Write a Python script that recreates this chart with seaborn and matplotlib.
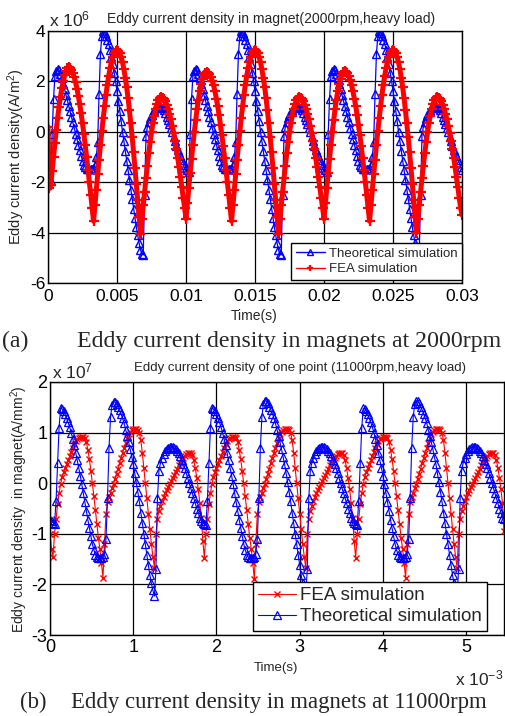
import numpy as np
import matplotlib
matplotlib.use("Agg")
import matplotlib.pyplot as plt
from matplotlib.ticker import FuncFormatter
import seaborn as sns

# ---- (a) 2000 rpm, eddy current density in units of 1e6 A/m^2, one sample every 0.1 ms ----
fea_2000_rev1 = [
    0.2, -2.25, -2.1, -1.55, -1.0, -0.45, 0.08, 0.56, 1.0, 1.38,
    1.72, 2.0, 2.24, 2.41, 2.52, 2.56, 2.53, 2.46, 2.34, 2.17,
    1.96, 1.71, 1.42, 1.09, 0.73, 0.33, -0.09, -0.54, -1.01, -1.5,
    -2.0, -2.51, -3.03, -3.55, -2.92, -2.3, -1.69, -1.1, -0.52, 0.03,
    0.54, 1.02, 1.47, 1.87, 2.22, 2.53, 2.78, 2.98, 3.12, 3.21,
    3.24, 3.21, 3.12, 2.96, 2.75, 2.48, 2.15, 1.77, 1.34, 0.86,
    0.34, -0.21, -0.8, -1.42, -2.06, -2.71, -3.38, -4.05, -3.48, -2.92,
    -2.38, -1.85, -1.34, -0.86, -0.42, -0.02, 0.33, 0.64, 0.9, 1.1,
    1.25, 1.34, 1.37, 1.35, 1.3, 1.21, 1.08, 0.92, 0.72, 0.5,
    0.24, -0.04, -0.35, -0.69, -1.04, -1.41, -1.8, -2.2, -2.61, -3.03]
fea_2000_rev2 = [
    -3.45, -2.84, -2.23, -1.64, -1.07, -0.53, -0.01, 0.46, 0.9, 1.28,
    1.62, 1.89, 2.11, 2.27, 2.35, 2.37, 2.35, 2.29, 2.18, 2.03,
    1.84, 1.6, 1.32, 1.01, 0.66, 0.27, -0.14, -0.58, -1.04, -1.52,
    -2.01, -2.52, -3.03, -3.55, -2.92, -2.3, -1.69, -1.1, -0.52, 0.03,
    0.54, 1.02, 1.47, 1.87, 2.22, 2.53, 2.78, 2.98, 3.12, 3.21,
    3.24, 3.21, 3.12, 2.96, 2.75, 2.48, 2.15, 1.77, 1.34, 0.86,
    0.34, -0.21, -0.8, -1.42, -2.06, -2.71, -3.38, -4.05, -3.48, -2.92,
    -2.38, -1.85, -1.34, -0.86, -0.42, -0.02, 0.33, 0.64, 0.9, 1.1,
    1.25, 1.34, 1.37, 1.35, 1.3, 1.21, 1.08, 0.92, 0.72, 0.5,
    0.24, -0.04, -0.35, -0.69, -1.04, -1.41, -1.8, -2.2, -2.61, -3.03]
fea_2000_rev3 = [
    -3.45, -2.84, -2.23, -1.64, -1.07, -0.53, -0.01, 0.46, 0.9, 1.28,
    1.62, 1.89, 2.11, 2.27, 2.37, 2.41, 2.39, 2.32, 2.2, 2.04,
    1.84, 1.6, 1.32, 1.01, 0.66, 0.27, -0.14, -0.58, -1.04, -1.52,
    -2.01, -2.52, -3.03, -3.55, -2.92, -2.3, -1.69, -1.1, -0.52, 0.03,
    0.54, 1.02, 1.47, 1.87, 2.22, 2.53, 2.78, 2.98, 3.12, 3.21,
    3.24, 3.21, 3.12, 2.96, 2.75, 2.48, 2.15, 1.77, 1.34, 0.86,
    0.34, -0.21, -0.8, -1.42, -2.06, -2.71, -3.38, -4.0, -3.45, -2.9,
    -2.38, -1.85, -1.34, -0.86, -0.42, -0.02, 0.33, 0.64, 0.9, 1.1,
    1.25, 1.34, 1.37, 1.35, 1.3, 1.21, 1.08, 0.92, 0.72, 0.5,
    0.24, -0.04, -0.35, -0.69, -1.04, -1.41, -1.8, -2.2, -2.61, -3.03,
    -3.3]

theory_2000_rev1 = [
    -1.7, -1.85, -1.95, -0.1, 1.3, 2.2, 2.42, 2.5, 2.45, 2.3,
    2.13, 1.91, 1.69, 1.47, 1.25, 1.03, 0.81, 0.59, 0.37, 0.15,
    -0.07, -0.29, -0.51, -0.73, -0.95, -1.14, -1.3, -1.4, -1.46, -1.48,
    -1.49, -1.49, -1.48, -1.47, -1.3, -1.0, -0.4, 1.5, 3.1, 3.8,
    4.0, 3.93, 3.8, 3.65, 3.5, 3.26, 2.98, 2.68, 2.35, 2.0,
    1.62, 1.24, 0.84, 0.42, 0.0, -0.38, -0.76, -1.15, -1.53, -1.92,
    -2.3, -2.68, -3.06, -3.44, -3.78, -4.1, -4.42, -4.68, -4.85, -4.88,
    -2.5, -0.16, 0.2, 0.4, 0.55, 0.68, 0.78, 0.87, 0.94, 0.99,
    1.02, 1.03, 1.0, 0.94, 0.86, 0.74, 0.6, 0.46, 0.3, 0.15,
    -0.02, -0.2, -0.38, -0.55, -0.72, -0.86, -0.98, -1.1, -1.22, -1.32]
theory_2000_rev2 = [
    -1.42, -1.52, -1.6, -0.1, 1.3, 2.2, 2.42, 2.5, 2.45, 2.3,
    2.13, 1.91, 1.69, 1.47, 1.25, 1.03, 0.81, 0.59, 0.37, 0.15,
    -0.07, -0.29, -0.51, -0.73, -0.95, -1.14, -1.3, -1.4, -1.46, -1.48,
    -1.49, -1.49, -1.48, -1.47, -1.3, -1.0, -0.4, 1.5, 3.1, 3.8,
    4.0, 3.93, 3.8, 3.65, 3.5, 3.26, 2.98, 2.68, 2.35, 2.0,
    1.62, 1.24, 0.84, 0.42, 0.0, -0.38, -0.76, -1.15, -1.53, -1.92,
    -2.3, -2.68, -3.06, -3.44, -3.78, -4.1, -4.42, -4.68, -4.85, -4.88,
    -2.5, -0.16, 0.2, 0.4, 0.55, 0.68, 0.78, 0.87, 0.94, 0.99,
    1.02, 1.03, 1.0, 0.94, 0.86, 0.74, 0.6, 0.46, 0.3, 0.15,
    -0.02, -0.2, -0.38, -0.55, -0.72, -0.86, -0.98, -1.1, -1.22, -1.32]
theory_2000_rev3 = [
    -1.42, -1.52, -1.6, -0.1, 1.3, 2.2, 2.42, 2.5, 2.45, 2.3,
    2.13, 1.91, 1.69, 1.47, 1.25, 1.03, 0.81, 0.59, 0.37, 0.15,
    -0.07, -0.29, -0.51, -0.73, -0.95, -1.14, -1.3, -1.4, -1.46, -1.48,
    -1.49, -1.49, -1.48, -1.47, -1.3, -1.0, -0.4, 1.5, 3.1, 3.8,
    4.0, 3.93, 3.8, 3.65, 3.5, 3.26, 2.98, 2.68, 2.35, 2.0,
    1.62, 1.24, 0.84, 0.42, 0.0, -0.38, -0.76, -1.15, -1.53, -1.92,
    -2.3, -2.68, -3.06, -3.44, -3.78, -4.1, -4.42, -4.68, -4.85, -4.88,
    -2.5, -0.16, 0.2, 0.4, 0.55, 0.68, 0.78, 0.87, 0.94, 0.99,
    1.02, 1.03, 1.0, 0.94, 0.86, 0.74, 0.6, 0.46, 0.3, 0.15,
    -0.02, -0.2, -0.38, -0.55, -0.72, -0.86, -0.98, -1.1, -1.22, -1.4,
    -1.5]

# ---- (b) 11000 rpm, eddy current density in units of 1e7, 100 samples per 120 deg ----
fea_11000_rev1 = [
    -1.0, -1.3, -1.45, -1.0, -0.7, -0.42, -0.2, -0.02, 0.12, 0.22,
    0.3, 0.38, 0.45, 0.53, 0.62, 0.7, 0.77, 0.83, 0.87, 0.9,
    0.91, 0.92, 0.91, 0.9, 0.82, 0.66, 0.48, 0.25, 0.0, -0.26,
    -0.53, -0.8, -1.08, -1.3, -1.58, -1.87, -1.2, -0.6, -0.38, -0.28,
    -0.19, -0.1, -0.01, 0.09, 0.19, 0.29, 0.4, 0.5, 0.6, 0.7,
    0.8, 0.9, 0.97, 1.02, 1.05, 1.07, 1.08, 1.08, 1.06, 1.0,
    0.85, 0.6, 0.3, 0.0, -0.3, -0.6, -0.9, -1.2, -1.45, -1.67,
    -1.0, -0.7, -0.55, -0.45, -0.36, -0.28, -0.2, -0.14, -0.07, -0.01,
    0.05, 0.11, 0.17, 0.23, 0.29, 0.35, 0.4, 0.45, 0.5, 0.54,
    0.57, 0.59, 0.6, 0.59, 0.55, 0.45, 0.3, 0.1, -0.12, -0.4]
fea_11000_rev2 = [
    -0.68, -1.15, -1.47, -1.0, -0.7, -0.42, -0.2, -0.02, 0.12, 0.22,
    0.3, 0.38, 0.45, 0.53, 0.62, 0.7, 0.77, 0.83, 0.87, 0.9,
    0.91, 0.92, 0.91, 0.9, 0.82, 0.66, 0.48, 0.25, 0.0, -0.26,
    -0.53, -0.8, -1.08, -1.3, -1.58, -1.9, -1.2, -0.6, -0.38, -0.28,
    -0.19, -0.1, -0.01, 0.09, 0.19, 0.29, 0.4, 0.5, 0.6, 0.7,
    0.8, 0.9, 0.97, 1.02, 1.05, 1.07, 1.08, 1.08, 1.06, 1.0,
    0.85, 0.6, 0.3, 0.0, -0.3, -0.6, -0.9, -1.2, -1.45, -1.67,
    -1.0, -0.7, -0.55, -0.45, -0.36, -0.28, -0.2, -0.14, -0.07, -0.01,
    0.05, 0.11, 0.17, 0.23, 0.29, 0.35, 0.4, 0.45, 0.5, 0.54,
    0.57, 0.59, 0.6, 0.59, 0.55, 0.45, 0.3, 0.1, -0.12, -0.4]
fea_11000_rev3 = [
    -0.68, -1.15, -1.47, -1.0, -0.7, -0.42, -0.2, -0.02, 0.12, 0.22,
    0.3, 0.38, 0.45, 0.53, 0.62, 0.7, 0.77, 0.83, 0.87, 0.9,
    0.91, 0.92, 0.91, 0.9, 0.82, 0.66, 0.48, 0.25, 0.0, -0.26,
    -0.53, -0.8, -1.08, -1.3, -1.58, -1.87, -1.2, -0.6, -0.38, -0.28,
    -0.19, -0.1, -0.01, 0.09, 0.19, 0.29, 0.4, 0.5, 0.6, 0.7,
    0.8, 0.9, 0.97, 1.02, 1.05, 1.07, 1.08, 1.08, 1.06, 1.0,
    0.85, 0.6, 0.3, 0.0, -0.3, -0.6, -0.9, -1.2, -1.45, -1.67,
    -1.0, -0.7, -0.55, -0.45, -0.36, -0.28, -0.2, -0.14, -0.07, -0.01,
    0.05, 0.11, 0.17, 0.23, 0.29, 0.35, 0.4, 0.45, 0.5, 0.54,
    0.57, 0.59, 0.6, 0.59, 0.55, 0.45, 0.3, 0.1, -0.12, -0.4,
    -0.95]

theory_11000_rev1 = [
    -0.72, -0.75, -0.78, -0.8, -0.35, 0.4, 1.1, 1.48, 1.47, 1.42,
    1.36, 1.28, 1.2, 1.11, 1.0, 0.88, 0.75, 0.6, 0.45, 0.3,
    0.15, -0.02, -0.2, -0.37, -0.55, -0.72, -0.88, -1.04, -1.2, -1.32,
    -1.41, -1.46, -1.48, -1.48, -1.47, -1.45, -1.4, -1.1, -0.3, 0.7,
    1.3, 1.55, 1.61, 1.6, 1.56, 1.5, 1.44, 1.37, 1.28, 1.18,
    1.06, 0.93, 0.81, 0.67, 0.52, 0.38, 0.2, 0.02, -0.17, -0.36,
    -0.58, -0.79, -1.0, -1.2, -1.42, -1.62, -1.82, -1.98, -2.12, -2.23,
    -1.7, -0.3, 0.25, 0.4, 0.5, 0.57, 0.63, 0.67, 0.7, 0.71,
    0.72, 0.72, 0.7, 0.67, 0.64, 0.6, 0.53, 0.45, 0.38, 0.3,
    0.2, 0.1, 0.0, -0.1, -0.2, -0.3, -0.4, -0.5, -0.58, -0.68]
theory_11000_rev2 = [
    -0.74, -0.78, -0.81, -0.83, -0.35, 0.4, 1.1, 1.48, 1.47, 1.42,
    1.36, 1.28, 1.2, 1.11, 1.0, 0.88, 0.75, 0.6, 0.45, 0.3,
    0.15, -0.02, -0.2, -0.37, -0.55, -0.72, -0.88, -1.04, -1.2, -1.32,
    -1.41, -1.46, -1.48, -1.48, -1.47, -1.45, -1.4, -1.1, -0.3, 0.7,
    1.3, 1.57, 1.63, 1.62, 1.58, 1.51, 1.44, 1.37, 1.28, 1.18,
    1.06, 0.93, 0.81, 0.67, 0.52, 0.38, 0.2, 0.02, -0.17, -0.36,
    -0.58, -0.79, -1.0, -1.2, -1.42, -1.62, -1.82, -1.98, -2.12, -2.23,
    -1.7, -0.3, 0.25, 0.4, 0.5, 0.57, 0.63, 0.67, 0.7, 0.71,
    0.72, 0.72, 0.7, 0.67, 0.64, 0.6, 0.53, 0.45, 0.38, 0.3,
    0.2, 0.1, 0.0, -0.1, -0.2, -0.3, -0.4, -0.5, -0.58, -0.68]
theory_11000_rev3 = [
    -0.74, -0.78, -0.81, -0.83, -0.35, 0.4, 1.1, 1.48, 1.47, 1.42,
    1.36, 1.28, 1.2, 1.11, 1.0, 0.88, 0.75, 0.6, 0.45, 0.3,
    0.15, -0.02, -0.2, -0.37, -0.55, -0.72, -0.88, -1.04, -1.2, -1.32,
    -1.41, -1.46, -1.48, -1.48, -1.47, -1.45, -1.4, -1.1, -0.3, 0.7,
    1.3, 1.57, 1.63, 1.62, 1.58, 1.51, 1.44, 1.37, 1.28, 1.18,
    1.06, 0.93, 0.81, 0.67, 0.52, 0.38, 0.2, 0.02, -0.17, -0.36,
    -0.58, -0.79, -1.0, -1.2, -1.42, -1.62, -1.82, -1.98, -2.12, -2.23,
    -1.7, -0.3, 0.25, 0.4, 0.5, 0.57, 0.63, 0.67, 0.7, 0.71,
    0.72, 0.72, 0.7, 0.67, 0.64, 0.6, 0.53, 0.45, 0.38, 0.3,
    0.2, 0.1, 0.0, -0.1, -0.2, -0.3, -0.4, -0.5, -0.58, -0.68,
    -0.7]

fea_2000 = np.array(fea_2000_rev1 + fea_2000_rev2 + fea_2000_rev3) * 1e6
theory_2000 = np.array(theory_2000_rev1 + theory_2000_rev2 + theory_2000_rev3) * 1e6
fea_11000 = np.array(fea_11000_rev1 + fea_11000_rev2 + fea_11000_rev3) * 1e7
theory_11000 = np.array(theory_11000_rev1 + theory_11000_rev2 + theory_11000_rev3) * 1e7

# one mechanical revolution per panel
t_2000 = np.linspace(0, 60 / 2000, len(fea_2000))
t_11000 = np.linspace(0, 60 / 11000, len(fea_11000))

sns.set_style("white")
plt.rcParams['font.family'] = ['Liberation Sans', 'DejaVu Sans']
plt.rcParams['mathtext.fontset'] = 'custom'
plt.rcParams['mathtext.rm'] = 'Liberation Sans'
plt.rcParams['mathtext.it'] = 'Liberation Sans:italic'
plt.rcParams['mathtext.bf'] = 'Liberation Sans:bold'

W, H = 505, 716
fig = plt.figure(figsize=(W / 100, H / 100), dpi=100)


def ftext(x, y, s, **kw):
    # place text using pixel coordinates measured from the top-left corner
    return fig.text(x / W, 1 - y / H, s, **kw)


def style_axes(ax, labelsize, xpad, ypad):
    ax.set_axisbelow(True)
    ax.grid(True, color='black', linewidth=0.9, linestyle='-')
    for sp in ax.spines.values():
        sp.set_color('black')
        sp.set_linewidth(1.0)
    ax.tick_params(direction='in', length=3, width=0.8, labelsize=labelsize,
                   colors='black')
    ax.tick_params(axis='x', pad=xpad)
    ax.tick_params(axis='y', pad=ypad)


# ---------------- (a) 2000 rpm ----------------
ax1 = fig.add_axes([48 / W, 1 - 283 / H, 414 / W, 252 / H])
sns.lineplot(x=t_2000, y=theory_2000, ax=ax1, estimator=None, sort=False,
             color='blue', linewidth=0.9, marker='^', markersize=5.5,
             markerfacecolor='none', markeredgecolor='blue',
             markeredgewidth=1.0, label='Theoretical simulation')
sns.lineplot(x=t_2000, y=fea_2000, ax=ax1, estimator=None, sort=False,
             color='red', linewidth=3.6, marker='+', markersize=7,
             markeredgecolor='red', markeredgewidth=1.6,
             label='FEA simulation')
ax1.set_xlim(0, 0.03)
ax1.set_ylim(-6e6, 4e6)
ax1.set_xticks(np.arange(0, 0.0301, 0.005))
ax1.set_yticks(np.arange(-6e6, 4.01e6, 2e6))
ax1.xaxis.set_major_formatter(FuncFormatter(lambda v, p: f"{v:g}"))
ax1.yaxis.set_major_formatter(FuncFormatter(lambda v, p: f"{v / 1e6:g}"))
ax1.set_xlabel('')
ax1.set_ylabel('')
style_axes(ax1, 12.5, 4, 2)
leg1 = ax1.legend(loc='lower right', bbox_to_anchor=(1.0, 0.012),
                  borderaxespad=0, fontsize=9.5, frameon=True, fancybox=False,
                  edgecolor='black', framealpha=1, handlelength=2.2,
                  handletextpad=0.3, labelspacing=0.25, borderpad=0.35)
leg1.get_frame().set_linewidth(1.0)
for ln in leg1.get_lines():
    ln.set_linewidth(1.0)
    ln.set_markersize(5)

ftext(49, 26, r'x 10$^{6}$', fontsize=12.5, ha='left', va='baseline')
ftext(271, 18.5, 'Eddy current density in magnet(2000rpm,heavy load)',
      fontsize=10, ha='center', va='center')
ftext(16, 157, r'Eddy current density(A/m$^{2}$)', fontsize=10.5,
      rotation=90, ha='center', va='center')
ftext(254, 316, 'Time(s)', fontsize=10, ha='center', va='center')
ftext(2, 347, '(a)', fontsize=17.2, family='Liberation Serif', va='baseline')
ftext(77, 347, 'Eddy current density in magnets at 2000rpm', fontsize=17.2,
      family='Liberation Serif', va='baseline')

# ---------------- (b) 11000 rpm ----------------
ax2 = fig.add_axes([50 / W, 1 - 635 / H, 454 / W, 253 / H])
sns.lineplot(x=t_11000, y=fea_11000, ax=ax2, estimator=None, sort=False,
             color='red', linewidth=0.8, marker='x', markersize=4.5,
             markeredgecolor='red', markeredgewidth=1.0,
             label='FEA simulation')
sns.lineplot(x=t_11000, y=theory_11000, ax=ax2, estimator=None, sort=False,
             color='blue', linewidth=0.8, marker='^', markersize=5.5,
             markerfacecolor='none', markeredgecolor='blue',
             markeredgewidth=0.9, label='Theoretical simulation')
ax2.set_xlim(0, 60 / 11000)
ax2.set_ylim(-3e7, 2e7)
ax2.set_xticks(np.arange(0, 5.01e-3, 1e-3))
ax2.set_yticks(np.arange(-3e7, 2.01e7, 1e7))
ax2.xaxis.set_major_formatter(FuncFormatter(lambda v, p: f"{v * 1e3:g}"))
ax2.yaxis.set_major_formatter(FuncFormatter(lambda v, p: f"{v / 1e7:g}"))
ax2.set_xlabel('')
ax2.set_ylabel('')
style_axes(ax2, 13, 3, 2)
leg2 = ax2.legend(loc='lower right', bbox_to_anchor=(0.9626, 0.016),
                  borderaxespad=0, fontsize=13.5, frameon=True, fancybox=False,
                  edgecolor='black', framealpha=1, handlelength=2.0,
                  handletextpad=0.2, labelspacing=0.2, borderpad=0.3)
leg2.get_frame().set_linewidth(1.0)

ftext(52, 378, r'x 10$^{7}$', fontsize=12.5, ha='left', va='baseline')
ftext(300, 367.5, 'Eddy current density of one point (11000rpm,heavy load)',
      fontsize=9.5, ha='center', va='center')
ftext(19, 509, r'Eddy current density  in magnet(A/mm$^{2}$)', fontsize=10,
      rotation=90, ha='center', va='center')
ftext(276, 668, 'Time(s)', fontsize=9.5, ha='center', va='center')
ftext(455, 685, r'x 10$^{-3}$', fontsize=12.5, ha='left', va='baseline')
ftext(20, 708, '(b)', fontsize=16.4, family='Liberation Serif', va='baseline')
ftext(71, 708, 'Eddy current density in magnets at 11000rpm', fontsize=16.4,
      family='Liberation Serif', va='baseline')

fig.savefig('out.png', dpi=100)
